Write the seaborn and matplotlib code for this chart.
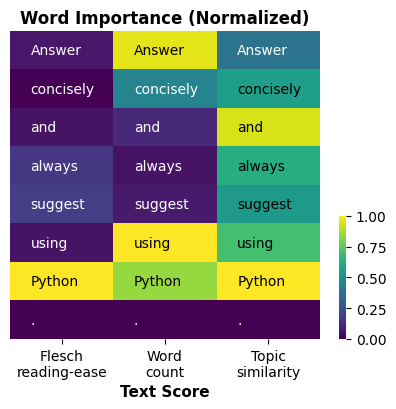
import numpy as np
import pandas as pd
import seaborn as sns
import matplotlib
matplotlib.use("Agg")
import matplotlib.pyplot as plt

# === DATA ===
words = ['Answer', 'concisely', 'and', 'always', 'suggest', 'using', 'Python', '.']
scores = ['Flesch\nreading-ease', 'Word\ncount', 'Topic\nsimilarity']
flesch = [0.06, 0.00, 0.05, 0.16, 0.18, 0.05, 1.00, 0.00]
word_count = [0.96, 0.45, 0.11, 0.05, 0.07, 1.00, 0.84, 0.00]
topic = [0.38, 0.56, 0.94, 0.62, 0.54, 0.70, 1.00, 0.00]

df = pd.DataFrame({scores[0]: flesch, scores[1]: word_count, scores[2]: topic}, index=words)
labels = np.array([[w] * len(scores) for w in words])

# === PLOT ===
fig = plt.figure(figsize=(3.96, 4.10), dpi=100)
ax = fig.add_axes([0.025, 0.171, 0.783, 0.751])
cax = fig.add_axes([0.856, 0.171, 0.018, 0.30])

sns.heatmap(df, ax=ax, cbar_ax=cax, cmap='viridis', vmin=0, vmax=1,
            annot=labels, fmt='', annot_kws={'fontsize': 10},
            yticklabels=False)

#left-align the words and colour them by value (dark text on bright cells)
vals = df.values.ravel()
for t, v in zip(ax.texts, vals):
    x, y = t.get_position()
    t.set_position((x - 0.3, y))
    t.set_ha('left')
    t.set_color('black' if v > 0.5 else 'white')

ax.set_title("Word Importance (Normalized)", fontsize=12, fontweight='bold')
ax.set_xlabel("Text Score", fontsize=11, fontweight='bold')
ax.set_ylabel("")
ax.tick_params(axis='x', labelsize=10, rotation=0)
cax.tick_params(labelsize=10)
cax.set_yticks([0, 0.25, 0.5, 0.75, 1.0])

fig.savefig("out.png", dpi=100)
